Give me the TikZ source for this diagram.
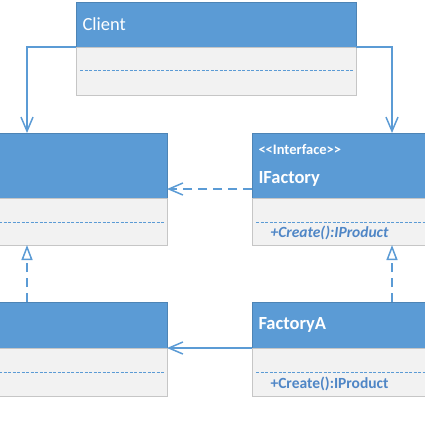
\documentclass[tikz,border=0pt]{standalone}
\usepackage{fontspec}
\setmainfont{Carlito}
\usetikzlibrary{arrows.meta,positioning}
\definecolor{umlblue}{HTML}{5B9BD5}
\definecolor{umlgrey}{HTML}{F2F2F2}
\definecolor{umledge}{HTML}{C6C6C6}
\definecolor{umltext}{HTML}{4F86C6}

\begin{document}
\begin{tikzpicture}[x=1pt,y=-1pt,
  head/.style={rectangle, fill=umlblue, draw=umlblue!85!black, line width=0.6pt, minimum width=280pt,
    text width=267pt, inner xsep=6.5pt, inner ysep=0pt, outer sep=0pt, align=left,
    text=white, font=\fontsize{18.5}{27}\selectfont, anchor=north west},
  body/.style={rectangle, fill=umlgrey, draw=umledge, line width=0.8pt, minimum width=280pt,
    minimum height=48pt, inner sep=0pt, outer sep=0pt},
  sep/.style={umlblue, line width=1pt, dash pattern=on 3pt off 1.5pt},
  op/.style={anchor=west, text=umltext, font=\fontsize{15.5}{18}\selectfont\bfseries},
  link/.style={draw=umlblue, line width=1.5pt},
  assoc/.style={link, -{Straight Barb[length=14pt,width=12pt]}},
  dep/.style={assoc, dash pattern=on 9pt off 6pt},
  real/.style={link, dash pattern=on 9pt off 6pt, -{Triangle[open,length=15pt,width=11pt,fill=white]}}]
  \useasboundingbox (0,0) rectangle (425,425);

  % Client
  \node[head, minimum height=45pt] (client) at (76,2) {Client};
  \node[body, below=0pt of client] (clientbody) {};

  % Product side
  \node[head, minimum height=65pt] (iproduct) at (-113,133) {};
  \node[body, below=0pt of iproduct, minimum height=47pt] (iproductbody) {};
  \node[head, minimum height=46pt] (producta) at (-113,302) {};
  \node[body, below=0pt of producta] (productabody) {};

  % Factory side
  \node[head, minimum height=65pt] (ifactory) at (252,133)
    {{\fontsize{14.5}{14.5}\bfseries <\kern0pt<Interface>\kern0pt>}\\[2pt]\textbf{IFactory}};
  \node[body, below=0pt of ifactory, minimum height=47pt] (ifactorybody) {};
  \node[op] (ifactoryop) at (267,233) {\itshape +Create():IProduct};
  \node[head, minimum height=46pt] (factorya) at (252,302) {\textbf{FactoryA}};
  \node[body, below=0pt of factorya] (factoryabody) {};
  \node[op] (factoryaop) at (267,384) {+Create():IProduct};

  % Separators
  \foreach \b in {clientbody,iproductbody,ifactorybody,productabody,factoryabody}
    \draw[sep] ([xshift=4pt,yshift=-24pt]\b.north west) -- ([xshift=-3pt,yshift=-24pt]\b.north east);

  % Associations
  \draw[assoc] (client.south west) -| (iproduct.north);
  \draw[assoc] (client.south east) -| (ifactory.north);
  \draw[assoc] (factorya.south west) -- (producta.south east);

  % Dependency
  \draw[dep] ([yshift=9pt]ifactory.south west) -- ([yshift=9pt]iproduct.south east);

  % Realizations
  \draw[real] (producta.north) -- (iproductbody.south);
  \draw[real] (factorya.north) -- (ifactorybody.south);
\end{tikzpicture}
\end{document}
